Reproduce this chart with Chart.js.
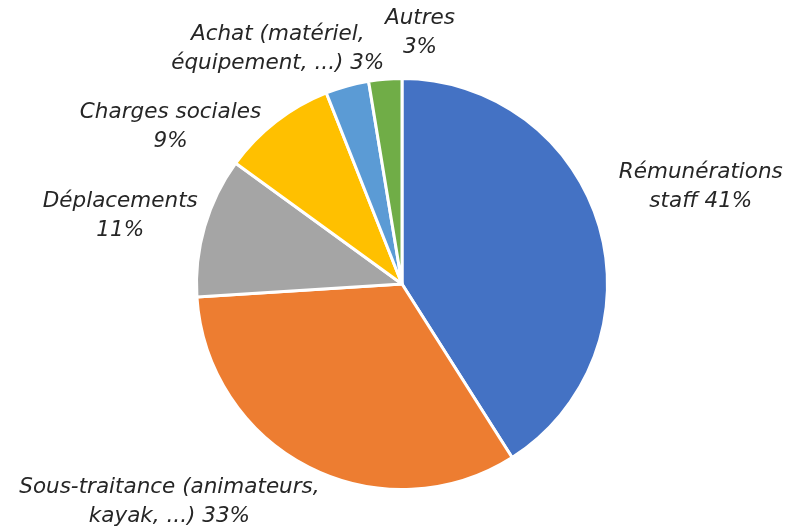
<!DOCTYPE html>
<html>
  <head>
    <script src="https://cdn.jsdelivr.net/npm/chart.js"></script>
    <title>Budget</title>
    <style>
      html, body { margin: 0; padding: 0; background: #fff; }
      #wrap { width: 787px; height: 526px; }
    </style>
  </head>
  <body>
    <div id="wrap"><canvas id="myChart" width="787" height="526"></canvas></div>
    <script>
      // categories and shares (%)
      var categories = [
        ['Rémunérations', 'staff'],
        ['Sous-traitance (animateurs,', 'kayak, ...)'],
        ['Déplacements'],
        ['Charges sociales'],
        ['Achat (matériel,', 'équipement, ...)'],
        ['Autres']
      ];
      var shares = [41, 33, 11, 9, 3.4, 2.6];
      var shareLabels = ['41%', '33%', '11%', '9%', '3%', '3%'];
      var colors = ['#4472C4', '#ED7D31', '#A5A5A5', '#FFC000', '#5B9BD5', '#70AD47'];

      // where each label sits: angle from 12 o'clock (deg) and distance in radii
      var labelPlace = [
        { a: 72.0, d: 1.529, lines: function (c, p) { return [c[0], c[1] + ' ' + p]; } },
        { a: 226.9, d: 1.550, lines: function (c, p) { return [c[0], c[1] + ' ' + p]; } },
        { a: 283.5, d: 1.410, lines: function (c, p) { return [c[0], p]; } },
        { a: 304.2, d: 1.362, lines: function (c, p) { return [c[0], p]; } },
        { a: 332.1, d: 1.292, lines: function (c, p) { return [c[0], c[1] + ' ' + p]; } },
        { a: 4.1, d: 1.225, lines: function (c, p) { return [c[0], p]; } }
      ];

      var outsideLabels = {
        id: 'outsideLabels',
        afterDraw: function (chart) {
          var ctx = chart.ctx;
          var meta = chart.getDatasetMeta(0);
          ctx.save();
          ctx.font = 'italic 21.5px "DejaVu Sans", sans-serif';
          ctx.fillStyle = '#262626';
          ctx.textAlign = 'center';
          ctx.textBaseline = 'middle';
          meta.data.forEach(function (arc, i) {
            var r = arc.outerRadius;
            var ang = labelPlace[i].a * Math.PI / 180;
            var x = arc.x + labelPlace[i].d * r * Math.sin(ang);
            var y = arc.y - labelPlace[i].d * r * Math.cos(ang);
            var lines = labelPlace[i].lines(categories[i], shareLabels[i]);
            var lh = 29;
            var y0 = y - (lines.length - 1) * lh / 2;
            lines.forEach(function (t, k) {
              ctx.fillText(t, x, y0 + k * lh);
            });
          });
          ctx.restore();
        }
      };

      var ctx = document.getElementById('myChart').getContext('2d');
      var chart = new Chart(ctx, {
        type: 'pie',
        data: {
          labels: categories.map(function (c) { return c.join(' '); }),
          datasets: [{
            data: shares,
            backgroundColor: colors,
            borderColor: '#ffffff',
            borderWidth: 3
          }]
        },
        options: {
          responsive: false,
          animation: false,
          layout: { padding: { top: 77, bottom: 35, left: 17, right: 0 } },
          plugins: {
            legend: { display: false },
            tooltip: { enabled: false }
          }
        },
        plugins: [outsideLabels]
      });
    </script>
  </body>
</html>
